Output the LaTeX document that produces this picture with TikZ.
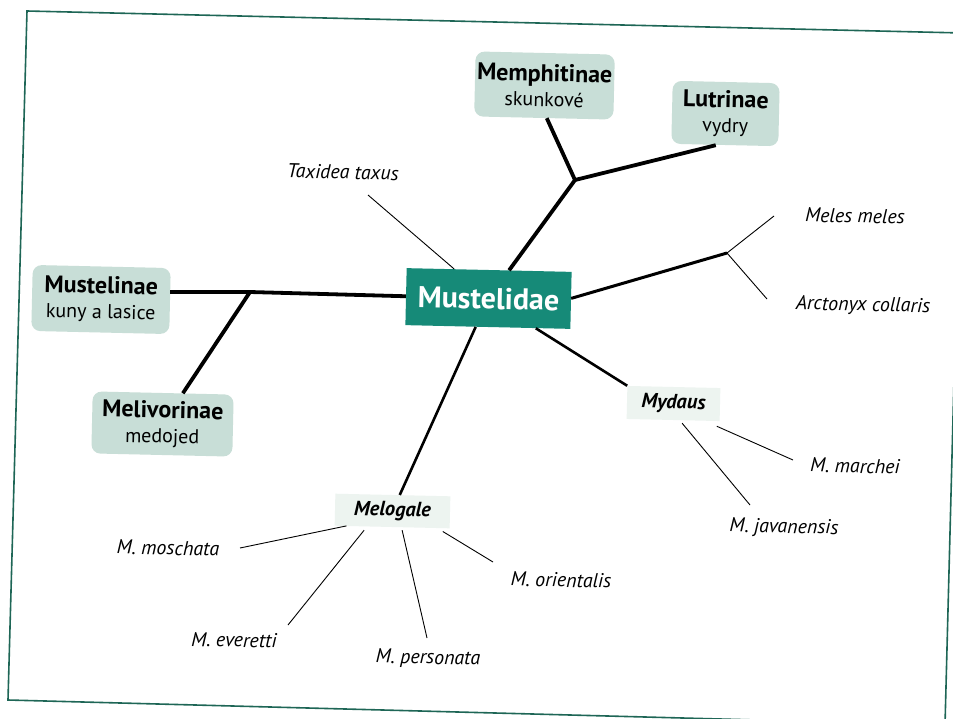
\documentclass[tikz,border=0pt]{standalone}
\usepackage{fontspec}
\setmainfont{PT Sans}
\usetikzlibrary{calc}
\definecolor{frameteal}{HTML}{1E6656}
\definecolor{mainteal}{HTML}{168A78}
\definecolor{boxfill}{HTML}{C8DED7}
\definecolor{genfill}{HTML}{EDF4F0}
\tikzset{
  subfam/.style={rounded corners=9pt, fill=boxfill, align=center, rotate=-1.3, inner sep=2pt,
    font=\fontsize{20}{25}\selectfont},
  genus/.style={fill=genfill, rotate=-1.3, inner sep=0pt, font=\fontsize{20.5}{23}\selectfont\bfseries\itshape},
  spec/.style={rotate=-1.3, inner sep=1pt, font=\fontsize{20}{22}\selectfont\itshape},
  thickline/.style={line width=3.8pt},
  midline/.style={line width=2.6pt},
  thinline/.style={line width=0.9pt},
}
\newcommand{\ttl}[1]{{\fontsize{24}{25}\selectfont\bfseries #1}}
\newcommand{\sbt}[1]{{\fontsize{20}{25}\selectfont #1}}
\begin{document}
\begin{tikzpicture}[x=1pt,y=-1pt]
\useasboundingbox (0,0) rectangle (953,718);
\fill[white] (0,0) rectangle (953,718);
\draw[frameteal, line width=1.6pt] (27,11) -- (963,33) -- (945,725) -- (8,700) -- cycle;

% nodes
\node[fill=mainteal, rotate=-1.3, minimum width=165pt, minimum height=57pt, text=white,
  font=\fontsize{30}{32}\selectfont\bfseries] (mid) at (488.5,298.5) {Mustelidae};
\node[subfam, minimum width=138pt, minimum height=66pt] (mustelinae) at (101,299.5)
  {\ttl{Mustelinae}\\\sbt{kuny a lasice}};
\node[subfam, minimum width=141pt, minimum height=62pt] (melivorinae) at (162.5,424)
  {\ttl{Melivorinae}\\\sbt{medojed}};
\node[subfam, minimum width=139pt, minimum height=65pt] (memph) at (544.5,85.5)
  {\ttl{Memphitinae}\\\sbt{skunkové}};
\node[subfam, minimum width=107pt, minimum height=63pt] (lutr) at (725.5,113.5)
  {\ttl{Lutrinae}\\\sbt{vydry}};
\node[genus, minimum width=93pt, minimum height=33pt] (mydaus) at (673.5,403.5) {Mydaus};
\node[genus, minimum width=115pt, minimum height=32pt] (melogale) at (392.5,511) {Melogale};

\node[spec] (taxidea) at (343,172) {Taxidea taxus};
\node[spec] (meles) at (855,216) {Meles meles};
\node[spec] (arctonyx) at (863,306) {Arctonyx collaris};
\node[spec] (marchei) at (855,466) {M. marchei};
\node[spec] (javan) at (784,528) {M. javanensis};
\node[spec] (moschata) at (168,548) {M. moschata};
\node[spec] (everetti) at (234,640) {M. everetti};
\node[spec] (personata) at (428,659) {M. personata};
\node[spec] (orientalis) at (561,580) {M. orientalis};

% junctions and free ends
\coordinate (jL) at (250,292);
\coordinate (jT) at (575,180);
\coordinate (jR) at (727,253);
\coordinate (eTax) at (368,195);
\coordinate (eMeles) at (774,216);
\coordinate (eArct) at (767,299);
\coordinate (eJav) at (750,505);
\coordinate (eMar) at (793,460);
\coordinate (eMos) at (240,548);
\coordinate (eEve) at (288,625);
\coordinate (ePer) at (427,638);
\coordinate (eOri) at (493,562);

% connectors
\draw[thickline] (mid) -- (jL) -- (jL -| mustelinae.east);
\draw[thickline] (jL) -- (melivorinae);
\draw[thickline] (mid) -- (jT) -- ($(memph.south)+(3,0)$);
\draw[thickline] (jT) -- ($(lutr.south)+(-9,0)$);
\draw[line width=3pt] ($(mid.east)+(0,-2)$) -- (jR);
\draw[thinline] (jR) -- (eMeles);
\draw[thinline] (jR) -- (eArct);
\draw[thinline] (eTax) -- (mid);
\draw[midline] (mid) -- (mydaus.north west);
\draw[midline] (mid) -- (melogale);
\draw[thinline] ($(mydaus.south)+(9,3)$) -- (eJav);
\draw[thinline] ($(mydaus.south east)+(-3,5)$) -- (eMar);
\draw[thinline] ($(melogale.south west)+(12,0)$) -- (eMos);
\draw[thinline] ($(melogale.south)+(-28,3)$) -- (eEve);
\draw[thinline] ($(melogale.south)+(10,3)$) -- (ePer);
\draw[thinline] ($(melogale.south east)+(-7,3)$) -- (eOri);
\end{tikzpicture}
\end{document}
